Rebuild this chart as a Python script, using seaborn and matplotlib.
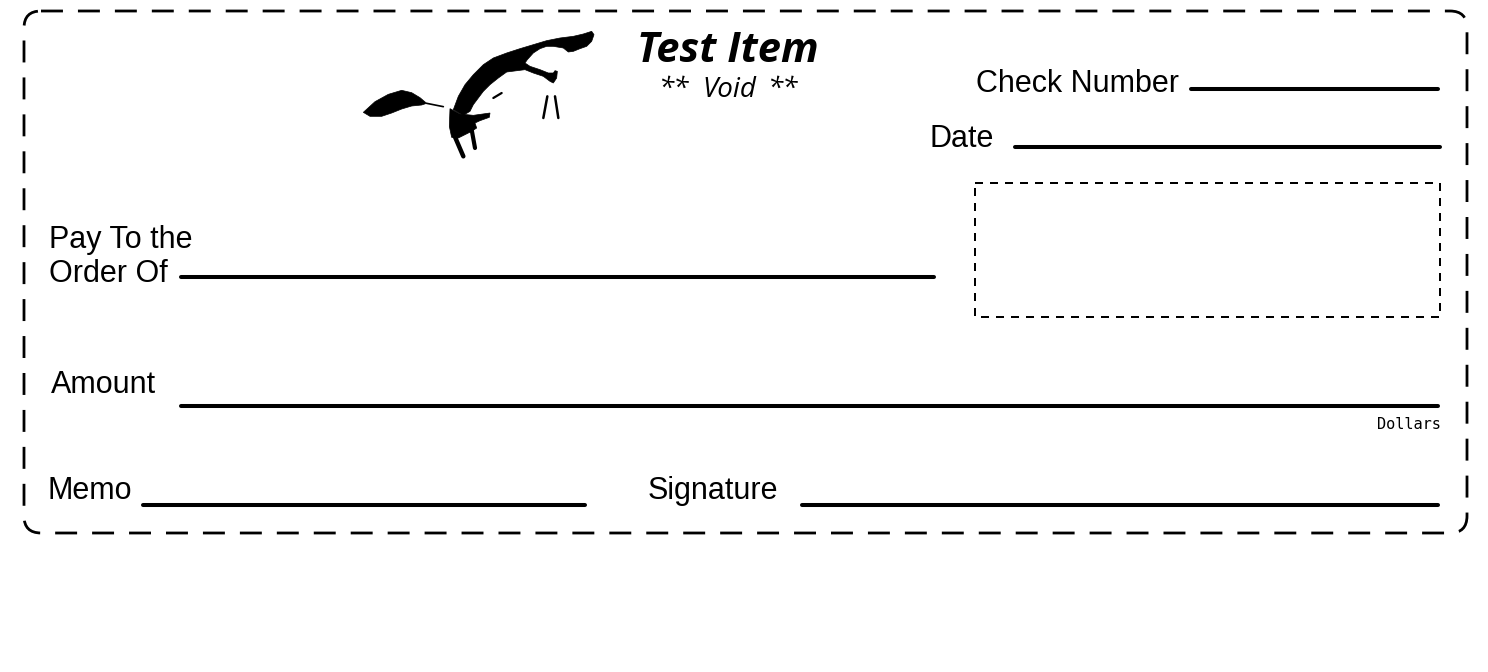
import matplotlib
matplotlib.use("Agg")
import matplotlib.pyplot as plt
import seaborn as sns
import numpy as np
from matplotlib.patches import FancyBboxPatch, Rectangle

sns.set_theme(style="white")
plt.rcParams['font.family'] = ['Liberation Sans', 'DejaVu Sans']

W, H = 1488, 672

# Field labels: (text, x, baseline y)
labels = ["Check Number", "Date", "Pay To the", "Order Of", "Amount", "Memo", "Signature"]
label_x = [976, 930, 49, 49, 51, 47, 648]
label_y = [92, 147, 248, 282, 393, 499, 499]

# Fill-in lines: x start, x end, y
line_x0 = [1191, 1015, 181, 181, 143, 802]
line_x1 = [1438, 1440, 934, 1438, 585, 1438]
line_y = [89, 147, 277, 406, 505, 505]

title = "Test Item"
subtitle_parts = ["**", "Void", "**"]
dollars = "Dollars"

# Bird silhouette, traced in 3x zoom frames
wing_origin = (355, 25)
left_wing = [(25,262),(60,230),(100,208),(140,196),(170,203),(195,218),(215,235),
             (200,240),(170,243),(140,252),(110,264),(80,274),(45,274)]
wing_strokes = [([(215,235),(265,245)], 1.2)]

body_origin = (440, 28)
main_wing = [(40,245),(55,205),(75,170),(100,140),(130,110),(160,90),(200,75),(240,62),
             (280,50),(320,38),(360,30),(400,25),(430,18),(455,10),(462,20),(455,40),
             (440,55),(420,62),(400,70),(385,72),(370,60),(340,55),(320,55),(300,62),
             (280,75),(262,95),(255,105),(270,115),(300,125),(325,135),(340,135),(345,128),
             (352,130),(350,150),(340,165),(330,160),(310,145),(280,135),(255,125),
             (200,132),(175,150),(150,170),(130,190),(115,210),(100,230),(90,250),(70,262)]
lower_body = [(30,242),(60,258),(100,262),(150,255),(148,268),(120,278),(105,285),
              (110,300),(95,310),(75,320),(55,330),(35,328),(28,295)]
body_strokes = [([(42,320),(70,385)], 3.2), ([(95,305),(105,360)], 3.0),
                ([(322,205),(310,270)], 1.8), ([(345,205),(355,270)], 1.8),
                ([(160,210),(185,195)], 1.6)]

def tr(pts, origin):
    a = np.array(pts, dtype=float)
    return origin[0] + a[:, 0] / 3.0, origin[1] + a[:, 1] / 3.0

fig = plt.figure(figsize=(W / 100, H / 100), dpi=100)
ax = fig.add_axes([0, 0, 1, 1])
fig.patch.set_facecolor("white")

# Outer dashed rounded border
border = FancyBboxPatch((24, 11), 1443, 522, boxstyle="round,pad=0,rounding_size=17",
                        fill=False, edgecolor="black", lw=2.0, ls=(0, (7.9, 5.4)))
ax.add_patch(border)

# Dashed amount box
ax.add_patch(Rectangle((975, 183), 465, 134, fill=False, edgecolor="black",
                       lw=1.44, ls=(0, (4, 3.5))))

# Bird
xs, ys = tr(left_wing, wing_origin)
ax.fill(xs, ys, color="black", lw=0.5, edgecolor="black")
for pts, lw in wing_strokes:
    xs, ys = tr(pts, wing_origin)
    ax.plot(xs, ys, color="black", lw=lw, solid_capstyle="round")
for poly in (main_wing, lower_body):
    xs, ys = tr(poly, body_origin)
    ax.fill(xs, ys, color="black", lw=0.5, edgecolor="black")
for pts, lw in body_strokes:
    xs, ys = tr(pts, body_origin)
    ax.plot(xs, ys, color="black", lw=lw, solid_capstyle="round")

# Title
ax.text(637, 62, title, fontsize=30, fontfamily="Open Sans", fontweight="bold",
        fontstyle="italic", ha="left", va="baseline", color="black")
sub_x = [658, 729, 798]
sub_ha = ["left", "center", "right"]
for t, x, ha in zip(subtitle_parts, sub_x, sub_ha):
    ax.text(x, 97, t, fontsize=20, fontfamily="Open Sans", fontstyle="italic",
            ha=ha, va="baseline", color="black")

# Labels
for t, x, y in zip(labels, label_x, label_y):
    ax.text(x, y, t, fontsize=22, ha="left", va="baseline", color="black")

# Lines
for x0, x1, y in zip(line_x0, line_x1, line_y):
    sns.lineplot(x=[x0, x1], y=[y, y], ax=ax, color="black", lw=2.9,
                 solid_capstyle="round", legend=False)

ax.text(1441, 429, dollars, fontsize=11, fontfamily="DejaVu Sans Mono",
        ha="right", va="baseline", color="black")

ax.set_xlim(0, W)
ax.set_ylim(H, 0)
ax.axis("off")
fig.savefig("out.png", dpi=100, facecolor="white")
